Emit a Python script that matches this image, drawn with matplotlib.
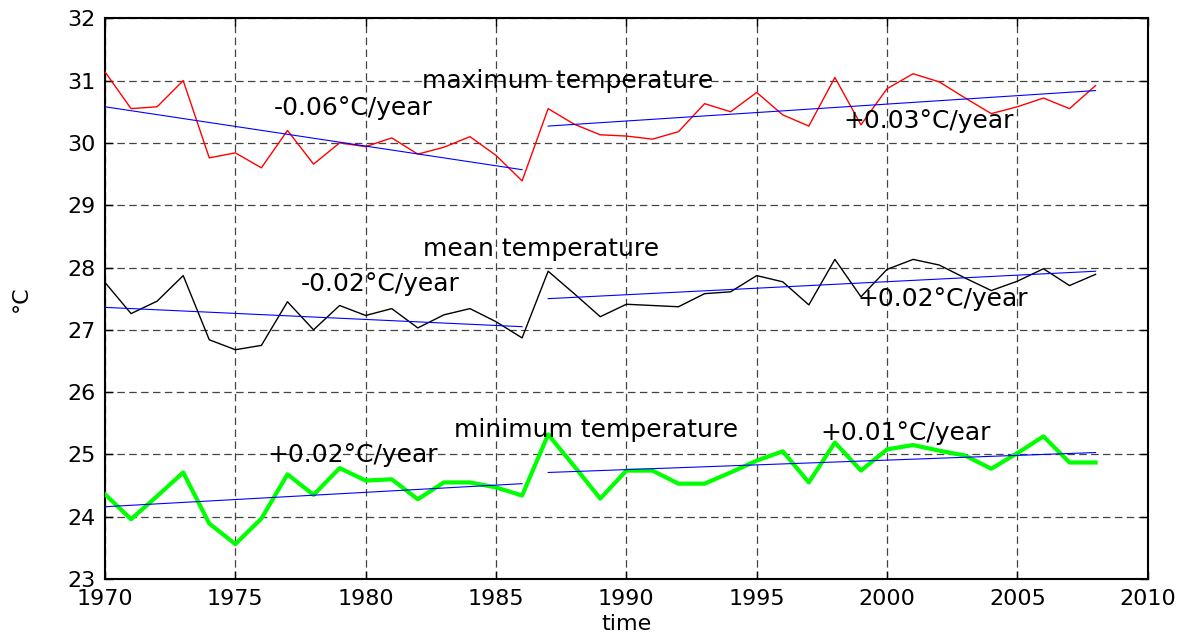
import numpy as np
import matplotlib
matplotlib.use("Agg")
import matplotlib.pyplot as plt

plt.rcParams['font.family'] = ['DejaVu Sans']

years = list(range(1970, 2009))

t_max = [31.14, 30.55, 30.58, 31.00, 29.76, 29.84, 29.60, 30.20, 29.66, 30.00,
         29.94, 30.08, 29.82, 29.93, 30.10, 29.80, 29.39, 30.55, 30.30, 30.13,
         30.11, 30.06, 30.18, 30.63, 30.50, 30.81, 30.45, 30.27, 31.05, 30.29,
         30.87, 31.11, 30.98, 30.72, 30.47, 30.58, 30.72, 30.55, 30.92]

t_mean = [27.76, 27.26, 27.46, 27.87, 26.84, 26.68, 26.75, 27.45, 27.00, 27.39,
          27.23, 27.34, 27.03, 27.24, 27.34, 27.13, 26.87, 27.94, 27.58, 27.21,
          27.41, 27.39, 27.37, 27.58, 27.61, 27.87, 27.77, 27.40, 28.13, 27.53,
          27.97, 28.13, 28.04, 27.83, 27.63, 27.78, 27.98, 27.71, 27.89]

t_min = [24.36, 23.96, 24.33, 24.71, 23.89, 23.56, 23.97, 24.68, 24.35, 24.78,
         24.58, 24.60, 24.28, 24.55, 24.55, 24.47, 24.34, 25.32, 24.81, 24.29,
         24.74, 24.74, 24.53, 24.53, 24.71, 24.90, 25.05, 24.55, 25.19, 24.74,
         25.08, 25.15, 25.06, 24.98, 24.77, 25.02, 25.29, 24.87, 24.87]

# trend line end points
trend_years_1 = [1970, 1986]
trend_years_2 = [1987, 2008]
trend_max_1 = [30.58, 29.57]
trend_max_2 = [30.27, 30.84]
trend_mean_1 = [27.36, 27.05]
trend_mean_2 = [27.50, 27.94]
trend_min_1 = [24.16, 24.53]
trend_min_2 = [24.71, 25.03]

labels = [
    ("maximum temperature", 1982.16, 31.00),
    ("-0.06\u00b0C/year", 1976.47, 30.56),
    ("+0.03\u00b0C/year", 1998.32, 30.35),
    ("mean temperature", 1982.19, 28.29),
    ("-0.02\u00b0C/year", 1977.50, 27.73),
    ("+0.02\u00b0C/year", 1998.85, 27.49),
    ("minimum temperature", 1983.38, 25.39),
    ("+0.02\u00b0C/year", 1976.23, 24.99),
    ("+0.01\u00b0C/year", 1997.46, 25.35),
]

x_ticks = [1970, 1975, 1980, 1985, 1990, 1995, 2000, 2005, 2010]
y_ticks = [23, 24, 25, 26, 27, 28, 29, 30, 31, 32]

fig = plt.figure(figsize=(11.88, 6.36), dpi=100)
ax = fig.add_axes([105 / 1188, 1 - 579 / 636, (1147.7 - 105) / 1188, (579 - 18.3) / 636])

ax.plot(years, t_max, color='#ff0000', lw=1.0, zorder=3)
ax.plot(years, t_mean, color='black', lw=1.0, zorder=3)
ax.plot(years, t_min, color='#00ff00', lw=3.0, zorder=3)

for ty, tv in [(trend_years_1, trend_max_1), (trend_years_2, trend_max_2),
               (trend_years_1, trend_mean_1), (trend_years_2, trend_mean_2),
               (trend_years_1, trend_min_1), (trend_years_2, trend_min_2)]:
    ax.plot(ty, tv, color='#0000ff', lw=0.8, zorder=4)

for txt, x, y in labels:
    ax.text(x, y, txt, fontsize=18, ha='left', va='center', color='black', zorder=5)

ax.set_xlim(1970, 2010)
ax.set_ylim(23, 32)
ax.set_xticks(x_ticks)
ax.set_yticks(y_ticks)
ax.tick_params(direction='in', length=6, width=1, top=True, right=True,
               labelsize=16, pad=7)
ax.grid(True, color='#444444', linestyle=(0, (6, 3.5)), linewidth=0.9)
for s in ax.spines.values():
    s.set_linewidth(1.5)

ax.set_xlabel('time', fontsize=16, labelpad=4)
ax.set_ylabel('\u00b0C', fontsize=16, labelpad=26)

fig.savefig('out.png', dpi=100)
